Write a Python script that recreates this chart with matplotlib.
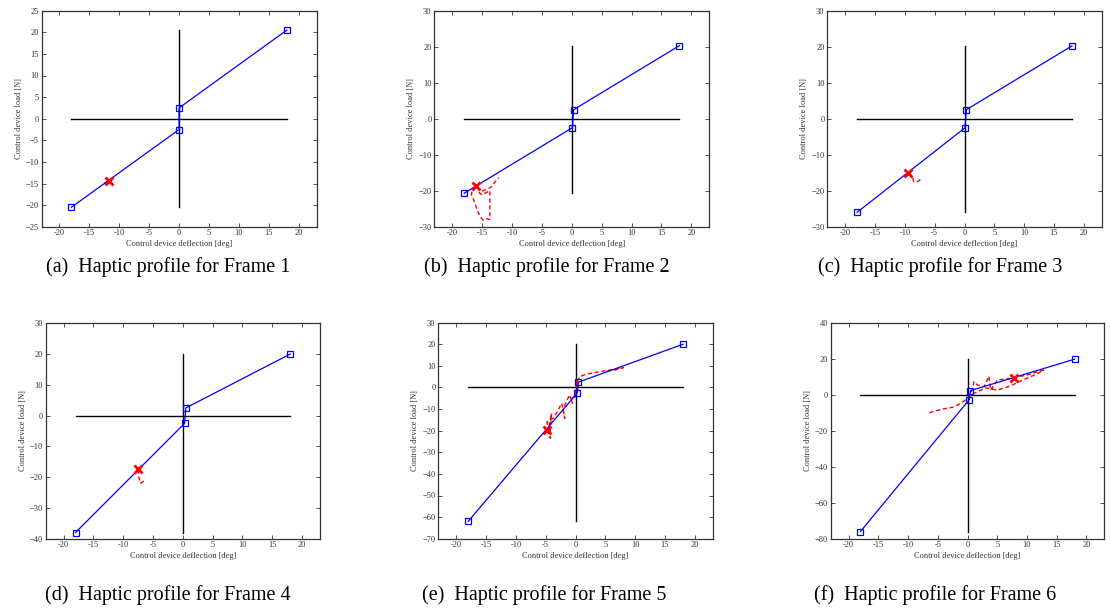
import matplotlib
matplotlib.use("Agg")
import matplotlib.pyplot as plt
from matplotlib.ticker import FuncFormatter, MultipleLocator

plt.rcParams['font.family'] = ['Liberation Serif', 'DejaVu Serif']

# ---------------- data ----------------
captions = ["(a)  Haptic profile for Frame 1", "(b)  Haptic profile for Frame 2",
            "(c)  Haptic profile for Frame 3", "(d)  Haptic profile for Frame 4",
            "(e)  Haptic profile for Frame 5", "(f)  Haptic profile for Frame 6"]

# blue haptic profile (deflection, load)
profile_x = [[-18, 0.0, 0.0, 18], [-18, 0.1, 0.3, 18], [-18, 0.1, 0.3, 18],
             [-18, 0.3, 0.5, 18], [-18, 0.3, 0.5, 18], [-18, 0.3, 0.5, 18]]
profile_y = [[-20.5, -2.5, 2.5, 20.5], [-20.7, -2.5, 2.5, 20.3], [-26, -2.5, 2.5, 20.2],
             [-38, -2.5, 2.5, 20], [-62, -2.5, 2.5, 20], [-76, -2.5, 2.5, 20]]

# red measured trajectory
trace_x = [
    [-12.5, -12.1, -11.6, -11.2, -10.9],
    [-16.1, -16.6, -16.8, -16.3, -15.8, -15.2, -14.8, -14.2, -13.7, -13.7, -13.7,
     -14.3, -15.0, -15.5, -14.8, -13.5, -12.8, -12.2],
    [-9.4, -8.7, -8.5, -7.9, -7.3],
    [-7.5, -7.4, -7.1, -6.7, -6.3],
    [-4.8, -4.2, -4.4, -4.0, -4.3, -4.8, -3.6, -2.3, -1.8, -2.1, -1.0, -0.5, -0.8,
     0.0, 0.2, 0.3, 0.2, 0.7, 1.8, 4.0, 5.7, 7.4, 8.0, 6.5, 5.0],
    [-6.4, -4.4, -2.5, -1.1, 0.0, 0.6, 1.1, 1.7, 2.8, 3.6, 3.9, 5.0, 7.2, 7.8,
     10.0, 12.8, 11.7, 9.0, 7.2, 5.0, 3.0, 1.5, 0.5, 0.2],
]
trace_y = [
    [-15.0, -14.7, -14.2, -13.8, -13.6],
    [-18.7, -19.5, -21.0, -23.0, -25.5, -27.5, -28.2, -27.8, -28.0, -24.0, -20.0,
     -20.5, -21.2, -20.5, -20.0, -19.0, -17.5, -16.4],
    [-15.0, -16.1, -17.5, -17.5, -16.8],
    [-17.5, -19.8, -22.0, -21.5, -20.4],
    [-19.7, -23.5, -17.0, -11.9, -21.0, -16.0, -14.0, -7.3, -14.3, -10.0, -3.4,
     -7.3, -5.0, -4.3, 3.5, 0.0, 2.0, 5.0, 6.2, 7.3, 8.1, 8.9, 9.2, 8.0, 7.5],
    [-9.8, -7.9, -6.8, -4.6, -1.8, 1.0, 7.5, 5.6, 4.7, 10.6, 2.8, 8.4, 9.3, 9.7,
     11.2, 14.0, 11.8, 8.0, 5.1, 2.8, 4.0, 1.5, 0.5, -1.0],
]
marker_x = [-11.8, -16.1, -9.4, -7.5, -4.8, 7.8]
marker_y = [-14.4, -18.7, -15.0, -17.5, -19.7, 9.5]

ylims = [(-25, 25), (-30, 30), (-30, 30), (-40, 30), (-70, 30), (-80, 40)]
ysteps = [5, 10, 10, 10, 10, 20]
xlim = (-23, 23)
xstep = 5

# ---------------- layout ----------------
W, H = 1111, 613
fig = plt.figure(figsize=(W / 100, H / 100), dpi=100)
boxes = [(41.5, 10.7, 316.7, 226.7), (434.3, 10.7, 709.3, 226.7), (827.3, 10.7, 1101.7, 226.7),
         (45.7, 323.3, 320.0, 538.7), (438.3, 322.7, 712.7, 538.7), (830.7, 323.3, 1104.3, 538.7)]
cap_pos = [(168, 267), (547, 267), (940, 267), (168, 595), (544, 595), (935, 595)]

for i in range(6):
    l, t, r, b = boxes[i]
    ax = fig.add_axes([l / W, 1 - b / H, (r - l) / W, (b - t) / H])
    px, py = profile_x[i], profile_y[i]
    # black reference cross
    ax.plot([px[0], px[-1]], [0, 0], color='black', lw=1.0, zorder=1)
    ax.plot([0, 0], [py[0], py[-1]], color='black', lw=1.0, zorder=1)
    # red measured trace
    ax.plot(trace_x[i], trace_y[i], color='red', ls=(0, (3, 2)), lw=1.0, zorder=2)
    # blue profile
    ax.plot(px, py, color='blue', lw=0.9, marker='s', ms=4, mfc='none', mec='blue',
            mew=0.9, zorder=3)
    ax.plot([marker_x[i]], [marker_y[i]], 'x', color='red', ms=6, mew=2, zorder=4)

    ax.set_xlim(*xlim)
    ax.set_ylim(*ylims[i])
    ax.xaxis.set_major_locator(MultipleLocator(xstep))
    ax.yaxis.set_major_locator(MultipleLocator(ysteps[i]))
    ax.xaxis.set_major_formatter(FuncFormatter(lambda v, p: f"{v:g}"))
    ax.tick_params(direction='in', top=True, right=True, labelsize=6, length=3,
                   width=0.6, colors='#333333', pad=2)
    for s in ax.spines.values():
        s.set_linewidth(0.9)
        s.set_color('#333333')
    ax.set_xlabel("Control device deflection [deg]", fontsize=6, labelpad=2, color='#333333')
    ax.set_ylabel("Control device load [N]", fontsize=6, labelpad=2, color='#333333')

    cx, cy = cap_pos[i]
    fig.text(cx / W, 1 - cy / H, captions[i], ha='center', va='center', fontsize=14.5)

fig.savefig("out.png", dpi=100)
